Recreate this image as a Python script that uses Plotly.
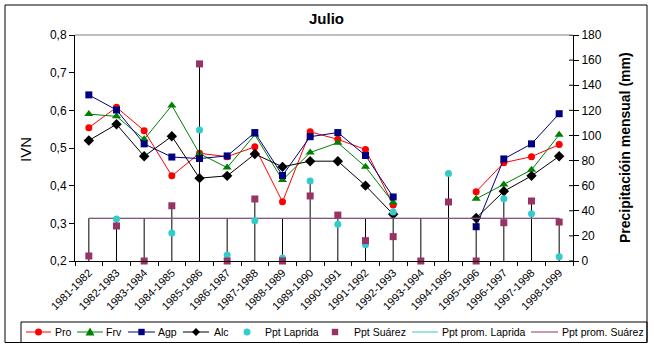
import plotly.graph_objects as go

# --- data -------------------------------------------------------------
campanas = ["1981-1982", "1982-1983", "1983-1984", "1984-1985", "1985-1986",
            "1986-1987", "1987-1988", "1988-1989", "1989-1990", "1990-1991",
            "1991-1992", "1992-1993", "1993-1994", "1994-1995", "1995-1996",
            "1996-1997", "1997-1998", "1998-1999"]

ivn_pro = [0.554, 0.608, 0.546, 0.426, 0.486, 0.477, 0.503, 0.357, 0.543, 0.523,
           0.496, 0.349, None, None, 0.384, 0.461, 0.477, 0.509]
ivn_frv = [0.590, 0.584, 0.523, 0.613, 0.485, 0.448, 0.535, 0.415, 0.488, 0.514,
           0.450, 0.355, None, None, 0.365, 0.403, 0.442, 0.535]
ivn_agp = [0.641, 0.601, 0.511, 0.476, 0.472, 0.479, 0.541, 0.427, 0.530, 0.541,
           0.480, 0.370, None, None, 0.291, 0.471, 0.511, 0.591]
ivn_alc = [0.520, 0.563, 0.478, 0.531, 0.420, 0.426, 0.484, 0.450, 0.465, 0.465,
           0.400, 0.324, None, None, 0.314, 0.385, 0.426, 0.478]

ppt_laprida = [None, 33.4, None, 22.3, 104.3, 4.8, 32.0, 2.4, 63.7, 29.2,
               13.0, 39.0, None, 69.6, None, 49.6, 37.7, 3.4]
ppt_suarez = [4.0, 27.9, 0.0, 44.0, 157.0, 0.0, 49.4, 0.0, 51.8, 36.6,
              16.2, 19.4, 0.0, 47.0, 0.0, 30.5, 47.8, 31.0]

prom_laprida = 34.0
prom_suarez = 34.0
ppt_prom_laprida = [prom_laprida] * len(campanas)
ppt_prom_suarez = [prom_suarez] * len(campanas)

ivn_ticks = [0.2, 0.3, 0.4, 0.5, 0.6, 0.7, 0.8]
ppt_ticks = [0, 20, 40, 60, 80, 100, 120, 140, 160, 180]

# --- colours / fonts ----------------------------------------------------
C_PRO, C_FRV, C_AGP, C_ALC = "#FF0000", "#008000", "#000080", "#000000"
C_LAP, C_SUA = "#33CCCC", "#993366"
FONT = "Arial, Liberation Sans, sans-serif"

# plot-area frame in page pixels
W, H = 654, 348
L, R, T, B = 75, 573, 35, 261


def px(x):
    return (x - L) / (R - L)


def py(y):
    return (B - y) / (B - T)


fig = go.Figure()

# drop lines from the category axis to the highest precipitation value
drop_x, drop_y = [], []
for i, c in enumerate(campanas):
    vals = [v for v in (ppt_laprida[i], ppt_suarez[i],
                        ppt_prom_laprida[i], ppt_prom_suarez[i]) if v is not None]
    drop_x += [c, c, None]
    drop_y += [0, max(vals), None]
fig.add_trace(go.Scatter(x=drop_x, y=drop_y, yaxis="y2", mode="lines",
                         line=dict(color="black", width=1), hoverinfo="skip"))

# IVN series (left axis)
for vals, col, sym, size in [(ivn_pro, C_PRO, "circle", 7),
                             (ivn_frv, C_FRV, "triangle-up", 8),
                             (ivn_agp, C_AGP, "square", 7),
                             (ivn_alc, C_ALC, "diamond", 8)]:
    fig.add_trace(go.Scatter(x=campanas, y=vals, mode="lines+markers",
                             line=dict(color=col, width=1),
                             marker=dict(color=col, symbol=sym, size=size),
                             connectgaps=False, cliponaxis=False))

# precipitation (right axis)
fig.add_trace(go.Scatter(x=campanas, y=ppt_prom_laprida, yaxis="y2", mode="lines",
                         line=dict(color=C_LAP, width=1)))
fig.add_trace(go.Scatter(x=campanas, y=ppt_prom_suarez, yaxis="y2", mode="lines",
                         line=dict(color=C_SUA, width=1)))
fig.add_trace(go.Scatter(x=campanas, y=ppt_laprida, yaxis="y2", mode="markers",
                         marker=dict(color=C_LAP, symbol="circle", size=7),
                         cliponaxis=False))
fig.add_trace(go.Scatter(x=campanas, y=ppt_suarez, yaxis="y2", mode="markers",
                         marker=dict(color=C_SUA, symbol="square", size=7),
                         cliponaxis=False))

shapes = []
annotations = []

# grey top edge of the plot area
shapes.append(dict(type="line", xref="paper", yref="paper", x0=0, x1=1, y0=1, y1=1,
                   line=dict(color="#808080", width=1)))
# inner half of the cross ticks on the right axis
for v in ppt_ticks:
    shapes.append(dict(type="line", xref="paper", yref="y2", x0=1 - 4 / (R - L), x1=1,
                       y0=v, y1=v, line=dict(color="black", width=1)))

# outer frame and legend box
shapes.append(dict(type="rect", xref="paper", yref="paper",
                   x0=px(5), x1=px(647), y0=py(5), y1=py(342.5),
                   line=dict(color="black", width=1)))
shapes.append(dict(type="rect", xref="paper", yref="paper",
                   x0=px(21), x1=px(647), y0=py(322), y1=py(342.5),
                   line=dict(color="black", width=1)))

# legend
LY = 332


def seg(x0, x1, col):
    shapes.append(dict(type="line", xref="paper", yref="paper", x0=px(x0), x1=px(x1),
                       y0=py(LY), y1=py(LY), line=dict(color=col, width=1)))


def dot(cx, col, r=3.5):
    shapes.append(dict(type="circle", xref="paper", yref="paper",
                       x0=px(cx - r), x1=px(cx + r), y0=py(LY - r), y1=py(LY + r),
                       fillcolor=col, line=dict(color=col, width=0)))


def sq(cx, col, r=3.2):
    shapes.append(dict(type="rect", xref="paper", yref="paper",
                       x0=px(cx - r), x1=px(cx + r), y0=py(LY - r), y1=py(LY + r),
                       fillcolor=col, line=dict(color=col, width=0)))


def poly(pts, col):
    path = "M " + " L ".join(f"{px(a)},{py(b)}" for a, b in pts) + " Z"
    shapes.append(dict(type="path", xref="paper", yref="paper", path=path,
                       fillcolor=col, line=dict(color=col, width=0)))


def label(x, text):
    annotations.append(dict(x=px(x), y=py(LY), xref="paper", yref="paper",
                            text=text, showarrow=False, xanchor="left",
                            yanchor="middle", font=dict(size=10.5, color="black")))


seg(26, 51, C_PRO); dot(38.5, C_PRO); label(53, "Pro")
seg(77, 103, C_FRV); poly([(90, LY - 4.5), (94.5, LY + 3.5), (85.5, LY + 3.5)], C_FRV); label(104, "Frv")
seg(128, 155, C_AGP); sq(141.5, C_AGP); label(156, "Agp")
seg(183, 209, C_ALC); poly([(196, LY - 4), (200, LY), (196, LY + 4), (192, LY)], C_ALC); label(212, "Alc")
dot(247, C_LAP); label(263, "Ppt Laprida")
sq(335, C_SUA); label(352, "Ppt Suárez")
seg(412, 438, C_LAP); label(440, "Ppt prom. Laprida")
seg(531, 558, C_SUA); label(560, "Ppt prom. Suárez")

# titles
annotations.append(dict(x=px(326), y=py(19), xref="paper", yref="paper",
                        text="<b>Julio</b>", showarrow=False, xanchor="center",
                        yanchor="middle", font=dict(size=15, color="black")))
annotations.append(dict(x=px(25), y=py(150), xref="paper", yref="paper",
                        text="IVN", textangle=-90, showarrow=False, xanchor="center",
                        yanchor="middle", font=dict(size=15, color="black")))
annotations.append(dict(x=px(625), y=py(148), xref="paper", yref="paper",
                        text="<b>Precipitacióin mensual (mm)</b>", textangle=-90,
                        showarrow=False, xanchor="center", yanchor="middle",
                        font=dict(size=14, color="black")))

fig.update_layout(
    width=W, height=H,
    margin=dict(l=L, r=W - R, t=T, b=H - B, pad=0),
    paper_bgcolor="white", plot_bgcolor="white",
    font=dict(family=FONT, color="black"),
    separators=",.",
    showlegend=False,
    xaxis=dict(type="category", categoryorder="array", categoryarray=campanas,
               range=[-0.5, len(campanas) - 0.5], showgrid=False, zeroline=False,
               showline=True, linecolor="black", linewidth=1,
               ticks="outside", ticklen=4, tickcolor="black", tickson="boundaries",
               tickangle=-45, tickfont=dict(size=11)),
    yaxis=dict(range=[0.2, 0.8], tickvals=ivn_ticks, tickformat=".1f",
               showgrid=False, zeroline=False, showline=True, linecolor="black",
               linewidth=1, ticks="outside", ticklen=5, tickcolor="black",
               tickfont=dict(size=12)),
    yaxis2=dict(range=[0, 180], tickvals=ppt_ticks, overlaying="y", side="right",
                showgrid=False, zeroline=False, showline=True, linecolor="black",
                linewidth=1, ticks="outside", ticklen=5, tickcolor="black",
                tickfont=dict(size=12)),
    shapes=shapes,
    annotations=annotations,
)

fig.write_html("out.html")
